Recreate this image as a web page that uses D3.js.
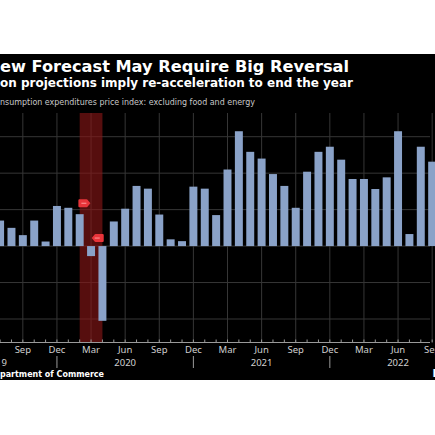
<!DOCTYPE html>
<html>
<head>
<meta charset="utf-8">
<script src="https://cdn.jsdelivr.net/npm/d3@7"></script>
<style>
  body { margin: 0; background: #fff; }
  svg { display: block; }
</style>
</head>
<body>
<svg id="chart" width="435" height="435"></svg>
<script>
// monthly change, core PCE (percent), Jul 2019 - Sep 2022
var months = ["2019-07","2019-08","2019-09","2019-10","2019-11","2019-12",
  "2020-01","2020-02","2020-03","2020-04","2020-05","2020-06","2020-07","2020-08","2020-09","2020-10","2020-11","2020-12",
  "2021-01","2021-02","2021-03","2021-04","2021-05","2021-06","2021-07","2021-08","2021-09","2021-10","2021-11","2021-12",
  "2022-01","2022-02","2022-03","2022-04","2022-05","2022-06","2022-07","2022-08","2022-09"];
var values = [0.14, 0.10, 0.06, 0.14, 0.025, 0.22,
  0.21, 0.175, -0.055, -0.41, 0.135, 0.205, 0.33, 0.315, 0.173, 0.037, 0.027, 0.326,
  0.315, 0.17, 0.42, 0.63, 0.517, 0.48, 0.395, 0.33, 0.21, 0.408, 0.517, 0.545,
  0.474, 0.368, 0.368, 0.313, 0.377, 0.63, 0.066, 0.545, 0.463];
var yTicks = [-0.4, -0.2, 0, 0.2, 0.4, 0.6];
var monthNames = ["Jan","Feb","Mar","Apr","May","Jun","Jul","Aug","Sep","Oct","Nov","Dec"];
var labelMonths = ["Mar","Jun","Sep","Dec"];
var years = [["2019","2019-06"],["2020","2020-06"],["2021","2021-06"],["2022","2022-06"]];
var recession = ["2020-02","2020-04"];
// red event markers: month, value, direction
var markers = [["2020-02", 0.235, 1], ["2020-04", 0.044, -1]];

var svg = d3.select("#chart");
var top0 = 54, bottom0 = 380;
var plotTop = 113, plotBottom = 342, plotRight = 430;

svg.append("rect").attr("x", 0).attr("y", top0).attr("width", 435)
  .attr("height", bottom0 - top0).attr("fill", "#000");

var step = 11.37;
var x = d3.scaleBand().domain(months)
  .range([0.1 - step / 2, 0.1 - step / 2 + step * months.length])
  .paddingInner(0.3).paddingOuter(0.15);
var xc = function(m) { return x(m) + x.bandwidth() / 2; };

var y = d3.scaleLinear().domain([-0.4, 0.6]).range([319, 136.7]);

// header text
svg.append("text").attr("x", 0).attr("y", 72)
  .attr("font-family", "DejaVu Sans").attr("font-weight", "bold")
  .attr("font-size", 16).attr("fill", "#fff")
  .attr("textLength", 349).attr("lengthAdjust", "spacingAndGlyphs")
  .text("ew Forecast May Require Big Reversal");
svg.append("text").attr("x", 0).attr("y", 86.5)
  .attr("font-family", "DejaVu Sans").attr("font-weight", "bold")
  .attr("font-size", 12.5).attr("fill", "#fff")
  .attr("textLength", 353).attr("lengthAdjust", "spacingAndGlyphs")
  .text("on projections imply re-acceleration to end the year");
svg.append("text").attr("x", 0).attr("y", 105)
  .attr("font-family", "DejaVu Sans")
  .attr("font-size", 9).attr("fill", "#c8c8c8")
  .attr("textLength", 255).attr("lengthAdjust", "spacingAndGlyphs")
  .text("nsumption expenditures price index: excluding food and energy");

// grid
svg.append("g").selectAll("line").data(yTicks).join("line")
  .attr("x1", 0).attr("x2", plotRight)
  .attr("y1", d => y(d)).attr("y2", d => y(d))
  .attr("stroke", "#363636").attr("stroke-width", 1);

var gridMonths = months.filter(m => labelMonths.indexOf(monthNames[+m.slice(5) - 1]) >= 0);
svg.append("g").selectAll("line").data(gridMonths).join("line")
  .attr("x1", d => xc(d)).attr("x2", d => xc(d))
  .attr("y1", plotTop).attr("y2", plotBottom)
  .attr("stroke", "#363636").attr("stroke-width", 1);

// recession shading
svg.append("rect")
  .attr("x", xc(recession[0])).attr("width", xc(recession[1]) - xc(recession[0]))
  .attr("y", plotTop).attr("height", plotBottom - plotTop)
  .attr("fill", "#8a1616").attr("opacity", 0.62);

// bars
svg.append("g").selectAll("rect").data(values).join("rect")
  .attr("x", (d, i) => x(months[i]))
  .attr("width", x.bandwidth())
  .attr("y", d => y(Math.max(0, d)))
  .attr("height", d => Math.abs(y(d) - y(0)))
  .attr("fill", "#8aa2c8");

// markers
svg.append("g").selectAll("path").data(markers).join("path")
  .attr("transform", d => "translate(" + (xc(d[0]) + 4.7 * d[2]) + "," + y(d[1]) + ") scale(" + d[2] + ",1)")
  .attr("d", "M-5,-4 L2,-4 Q3,-4 3.5,-3 L6,0 L3.5,3 Q3,4 2,4 L-5,4 Q-6,4 -6,3 L-6,-3 Q-6,-4 -5,-4 Z")
  .attr("fill", "#e8343a");
svg.append("g").selectAll("line").data(markers).join("line")
  .attr("x1", d => xc(d[0]) + 4.7 * d[2] - 3).attr("x2", d => xc(d[0]) + 4.7 * d[2] + 2)
  .attr("y1", d => y(d[1])).attr("y2", d => y(d[1]))
  .attr("stroke", "#ff9a9a").attr("stroke-width", 1);

// x axis
var axis = d3.axisBottom(x)
  .tickSize(-3).tickPadding(3.5)
  .tickFormat(function(m) {
    var n = monthNames[+m.slice(5) - 1];
    return labelMonths.indexOf(n) >= 0 ? n : "";
  });
var gx = svg.append("g").attr("transform", "translate(0," + (plotBottom + 0.5) + ")").call(axis);
gx.select(".domain").attr("stroke", "#9a9a9a").attr("d", "M0,0H" + plotRight);
gx.selectAll(".tick line").attr("stroke", "#9a9a9a");
gx.selectAll(".tick text").attr("fill", "#d0d0d0")
  .attr("font-family", "Noto Sans").attr("font-size", 9.5);

// year labels and separators
svg.append("g").selectAll("text").data(years).join("text")
  .attr("x", d => d[0] === "2019" ? 7 : xc(d[1]))
  .attr("y", 366)
  .attr("text-anchor", d => d[0] === "2019" ? "end" : "middle")
  .attr("font-family", "Noto Sans").attr("font-size", 9.5).attr("fill", "#d0d0d0")
  .text(d => d[0]);
var decs = months.filter(m => m.slice(5) === "12");
svg.append("g").selectAll("line").data(decs).join("line")
  .attr("x1", d => xc(d)).attr("x2", d => xc(d))
  .attr("y1", 356).attr("y2", 368)
  .attr("stroke", "#9a9a9a").attr("stroke-width", 1);

// source
svg.append("text").attr("x", 0).attr("y", 377)
  .attr("font-family", "DejaVu Sans").attr("font-weight", "bold")
  .attr("font-size", 9).attr("fill", "#fff")
  .attr("textLength", 104).attr("lengthAdjust", "spacingAndGlyphs")
  .text("partment of Commerce");
svg.append("text").attr("x", 432.5).attr("y", 377)
  .attr("font-family", "DejaVu Sans").attr("font-weight", "bold")
  .attr("font-size", 10).attr("fill", "#fff")
  .text("Bloomberg");
</script>
</body>
</html>
